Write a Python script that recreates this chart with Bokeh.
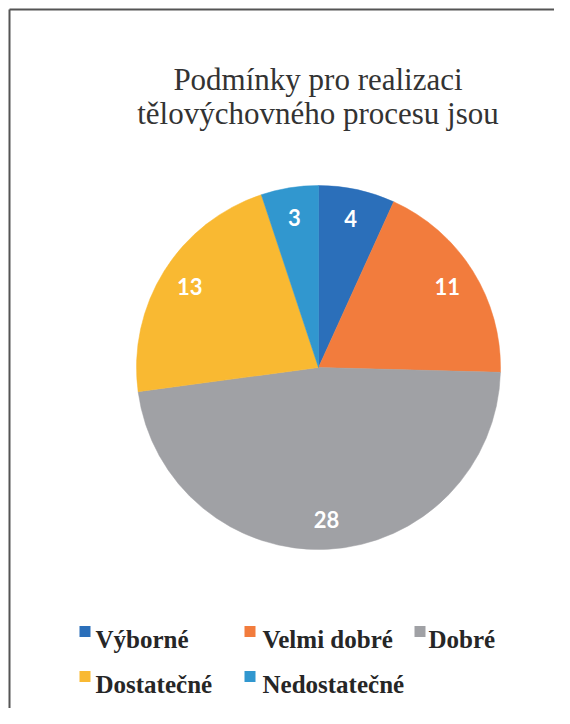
import math
from bokeh.plotting import figure
from bokeh.models import ColumnDataSource, Range1d
from bokeh.core.properties import value
from bokeh.embed import file_html
from bokeh.resources import INLINE

# ---- data ----
title_lines = ["Podmínky pro realizaci", "tělovýchovného procesu jsou"]
categories = ["Výborné", "Velmi dobré", "Dobré", "Dostatečné", "Nedostatečné"]
counts = [4, 11, 28, 13, 3]
colors = ["#2B6FBA", "#F27C3D", "#A0A1A5", "#F9B932", "#3197CF"]

# ---- layout (figure coords: x = image_x, y = H - image_y) ----
W, H = 554, 708
cx, cy, R = 318, H - 367, 182
label_r = 152

p = figure(width=W, height=H, output_backend="svg", toolbar_location=None,
           x_range=Range1d(0, W), y_range=Range1d(0, H),
           x_axis_location=None, y_axis_location=None,
           min_border=0, outline_line_color=None)
p.grid.visible = False
p.background_fill_color = "white"
p.border_fill_color = "white"

total = sum(counts)
starts, ends, lx, ly, txt = [], [], [], [], []
cum = 0
for v in counts:
    a0 = math.pi / 2 - 2 * math.pi * cum / total
    a1 = math.pi / 2 - 2 * math.pi * (cum + v) / total
    mid = (a0 + a1) / 2
    starts.append(a0)
    ends.append(a1)
    lx.append(cx + label_r * math.cos(mid))
    ly.append(cy + label_r * math.sin(mid))
    txt.append(str(v))
    cum += v

src = ColumnDataSource(dict(start=starts, end=ends, color=colors,
                            lx=lx, ly=ly, txt=txt))
p.wedge(x=cx, y=cy, radius=R, start_angle="start", end_angle="end",
        direction="clock", fill_color="color", line_color="color",
        line_width=0.5, source=src)
p.text(x="lx", y="ly", text="txt", source=src, text_color="white",
       text_font=value("Lato"), text_font_style="bold", text_font_size="22px",
       text_align="center", text_baseline="middle")

# title
p.text(x=[317.5, 317.5], y=[H - 79, H - 113], text=title_lines,
       text_font=value("Liberation Serif"), text_font_size="31px",
       text_color="#333333", text_align="center", text_baseline="alphabetic")

# legend
col_marker = [84.5, 249.5, 419.5]
col_text = [95, 262, 428]
row_base = [H - 639, H - 684]
mx, my, tx, ty = [], [], [], []
for i, c in enumerate(categories):
    r, k = divmod(i, 3)
    mx.append(col_marker[k])
    my.append(row_base[r] + 8)
    tx.append(col_text[k])
    ty.append(row_base[r])
lsrc = ColumnDataSource(dict(mx=mx, my=my, tx=tx, ty=ty, t=categories, color=colors))
p.rect(x="mx", y="my", width=11, height=11, fill_color="color",
       line_color=None, source=lsrc)
p.text(x="tx", y="ty", text="t", source=lsrc, text_font=value("Liberation Serif"),
       text_font_style="bold", text_font_size="25px", text_color="#262626",
       text_baseline="alphabetic")

# frame lines (left and top)
p.segment(x0=[9, 9], y0=[0, H - 9], x1=[9, W], y1=[H - 9, H - 9],
          line_color="#555555", line_width=2)

open("out.html", "w").write(file_html(p, INLINE))
